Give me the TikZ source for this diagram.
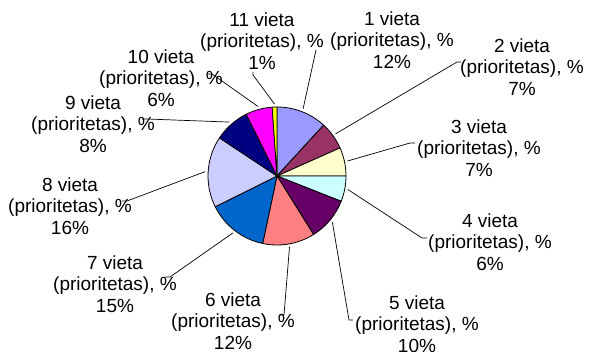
\documentclass[tikz,border=0pt]{standalone}
\usepackage{fontspec}
\setmainfont{Liberation Sans}
\usepackage{tikz}

\definecolor{sliceA}{HTML}{9999FF}
\definecolor{sliceB}{HTML}{993366}
\definecolor{sliceC}{HTML}{FFFFCC}
\definecolor{sliceD}{HTML}{CCFFFF}
\definecolor{sliceE}{HTML}{660066}
\definecolor{sliceF}{HTML}{FF8080}
\definecolor{sliceG}{HTML}{0066CC}
\definecolor{sliceH}{HTML}{CCCCFF}
\definecolor{sliceI}{HTML}{000080}
\definecolor{sliceJ}{HTML}{FF00FF}
\definecolor{sliceK}{HTML}{FFFF00}

\tikzset{
    slice/.style={
           draw=black, line width=0.8pt,
           line join=round,
           },
}
\tikzset{
    share/.style={
           align=center,
           inner sep=0pt,
           font=\fontsize{19}{21.5}\selectfont,
           },
}
\tikzset{
    leader/.style={
           draw=black, line width=0.7pt,
           },
}

\begin{document}
\begin{tikzpicture}[x=1pt,y=1pt]

 \useasboundingbox (0,0) rectangle (594,351);
 \coordinate (c) at (277,175);

 % pie, clockwise from the top
 \filldraw[slice,fill=sliceA] (c) -- ++(90:69pt) arc[start angle=90, end angle=47.5, radius=69pt] -- cycle;
 \filldraw[slice,fill=sliceB] (c) -- ++(47.5:69pt) arc[start angle=47.5, end angle=24, radius=69pt] -- cycle;
 \filldraw[slice,fill=sliceC] (c) -- ++(24:69pt) arc[start angle=24, end angle=0, radius=69pt] -- cycle;
 \filldraw[slice,fill=sliceD] (c) -- ++(0:69pt) arc[start angle=0, end angle=-21.5, radius=69pt] -- cycle;
 \filldraw[slice,fill=sliceE] (c) -- ++(-21.5:69pt) arc[start angle=-21.5, end angle=-58, radius=69pt] -- cycle;
 \filldraw[slice,fill=sliceF] (c) -- ++(-58:69pt) arc[start angle=-58, end angle=-102, radius=69pt] -- cycle;
 \filldraw[slice,fill=sliceG] (c) -- ++(-102:69pt) arc[start angle=-102, end angle=-153.5, radius=69pt] -- cycle;
 \filldraw[slice,fill=sliceH] (c) -- ++(-153.5:69pt) arc[start angle=-153.5, end angle=-213.5, radius=69pt] -- cycle;
 \filldraw[slice,fill=sliceI] (c) -- ++(-213.5:69pt) arc[start angle=-213.5, end angle=-243.5, radius=69pt] -- cycle;
 \filldraw[slice,fill=sliceJ] (c) -- ++(-243.5:69pt) arc[start angle=-243.5, end angle=-266, radius=69pt] -- cycle;
 \filldraw[slice,fill=sliceK] (c) -- ++(-266:69pt) arc[start angle=-266, end angle=-270, radius=69pt] -- cycle;

 % labels
 \node[share] (L1) at (392,311) {1 vieta\\(prioritetas), \%\\12\%};
 \node[share] (L2) at (522,284) {2 vieta\\(prioritetas), \%\\7\%};
 \node[share] (L3) at (479,203) {3 vieta\\(prioritetas), \%\\7\%};
 \node[share] (L4) at (490,109) {4 vieta\\(prioritetas), \%\\6\%};
 \node[share] (L5) at (417,27) {5 vieta\\(prioritetas), \%\\10\%};
 \node[share] (L6) at (233,30) {6 vieta\\(prioritetas), \%\\12\%};
 \node[share] (L7) at (115,67) {7 vieta\\(prioritetas), \%\\15\%};
 \node[share] (L8) at (70,145) {8 vieta\\(prioritetas), \%\\16\%};
 \node[share] (L9) at (93,227) {9 vieta\\(prioritetas), \%\\8\%};
 \node[share] (L10) at (161,273) {10 vieta\\(prioritetas), \%\\6\%};
 \node[share] (L11) at (262,310) {11 vieta\\(prioritetas), \%\\1\%};

 % leader lines
 \path (c) ++(68.75:72pt) coordinate (e1);
 \path (c) ++(35.75:72pt) coordinate (e2);
 \path (c) ++(12:72pt) coordinate (e3);
 \path (c) ++(-10.75:72pt) coordinate (e4);
 \path (c) ++(-39.75:72pt) coordinate (e5);
 \path (c) ++(-80:72pt) coordinate (e6);
 \path (c) ++(-127.75:72pt) coordinate (e7);
 \path (c) ++(-183.5:72pt) coordinate (e8);
 \path (c) ++(-228.5:72pt) coordinate (e9);
 \path (c) ++(-254.75:72pt) coordinate (e10);
 \path (c) ++(-268:72pt) coordinate (e11);

 \coordinate (t1) at (316,301);
 \coordinate (k2) at (457,289); \coordinate (t2) at (461,289);
 \coordinate (k3) at (410,208); \coordinate (t3) at (415,208);
 \coordinate (k4) at (422,113); \coordinate (t4) at (427,113);
 \coordinate (k5) at (349,31);  \coordinate (t5) at (353,31);
 \coordinate (k6) at (284,36);  \coordinate (t6) at (280,36);
 \coordinate (k7) at (170,74);  \coordinate (t7) at (165,74);
 \coordinate (k8) at (127,150); \coordinate (t8) at (122,150);
 \coordinate (k9) at (147,232); \coordinate (t9) at (142,232);
 \coordinate (k10) at (212,277); \coordinate (t10) at (208,277);
 \coordinate (k11) at (253,276); \coordinate (t11) at (253,279);

 \draw[leader] (e1) -- (t1);
 \draw[leader] (e2) -- (k2) -- (t2);
 \draw[leader] (e3) -- (k3) -- (t3);
 \draw[leader] (e4) -- (k4) -- (t4);
 \draw[leader] (e5) -- (k5) -- (t5);
 \draw[leader] (e6) -- (k6) -- (t6);
 \draw[leader] (e7) -- (k7) -- (t7);
 \draw[leader] (e8) -- (k8) -- (t8);
 \draw[leader] (e9) -- (k9) -- (t9);
 \draw[leader] (e10) -- (k10) -- (t10);
 \draw[leader] (e11) -- (k11) -- (t11);

\end{tikzpicture}
\end{document}
